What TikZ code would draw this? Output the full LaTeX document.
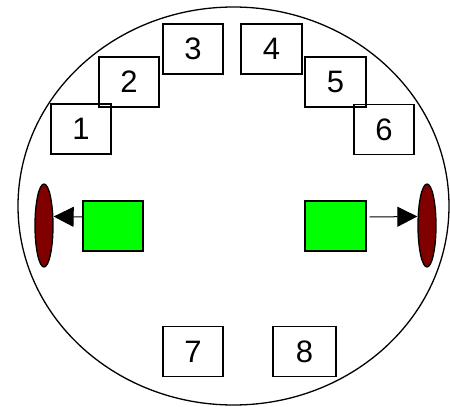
\documentclass[tikz,border=0pt]{standalone}
\usepackage{fontspec}
\setmainfont{Liberation Sans}
\usetikzlibrary{arrows.meta,shapes.geometric}
\tikzset{
  numbox/.style={draw, line width=1.3pt, minimum width=60pt, minimum height=50pt, inner sep=0pt, font=\fontsize{31}{31}\selectfont},
  greenbox/.style={draw, line width=1.3pt, fill=green, minimum width=60pt, minimum height=50pt, inner sep=0pt},
  wheel/.style={draw, ellipse, line width=1.3pt, fill={rgb,255:red,128;green,0;blue,0}, minimum width=18pt, minimum height=83pt, inner sep=0pt},
  arr/.style={line width=1pt, -{Triangle[length=20pt,width=20pt]}}
}
\begin{document}
\begin{tikzpicture}[x=1pt,y=-1pt]
\useasboundingbox (0,0) rectangle (450,407);
% outer body
\draw[line width=1.3pt] (233.5,206) ellipse [x radius=215.5, y radius=199];
% numbered boxes
\node[numbox] (n1) at (81,129) {1};
\node[numbox] (n2) at (129,82) {2};
\node[numbox] (n3) at (193,49) {3};
\node[numbox, minimum width=61pt] (n4) at (271.5,49) {4};
\node[numbox, minimum width=61pt] (n5) at (335.5,82) {5};
\node[numbox] (n6) at (384,129.5) {6};
\node[numbox] (n7) at (193,351.5) {7};
\node[numbox, minimum width=63pt] (n8) at (304.5,351.5) {8};
% motors and wheels
\node[greenbox] (gl) at (113,226) {};
\node[greenbox, minimum width=61pt] (gr) at (335.5,226) {};
\node[wheel] (wl) at (44,225.5) {};
\node[wheel] (wr) at (427,225.5) {};
\draw[arr] ([yshift=9pt]gl.west) -- ([yshift=9pt]wl.east);
\draw[arr] ([yshift=9pt,xshift=3pt]gr.east) -- ([yshift=9pt]wr.west);
\end{tikzpicture}
\end{document}
